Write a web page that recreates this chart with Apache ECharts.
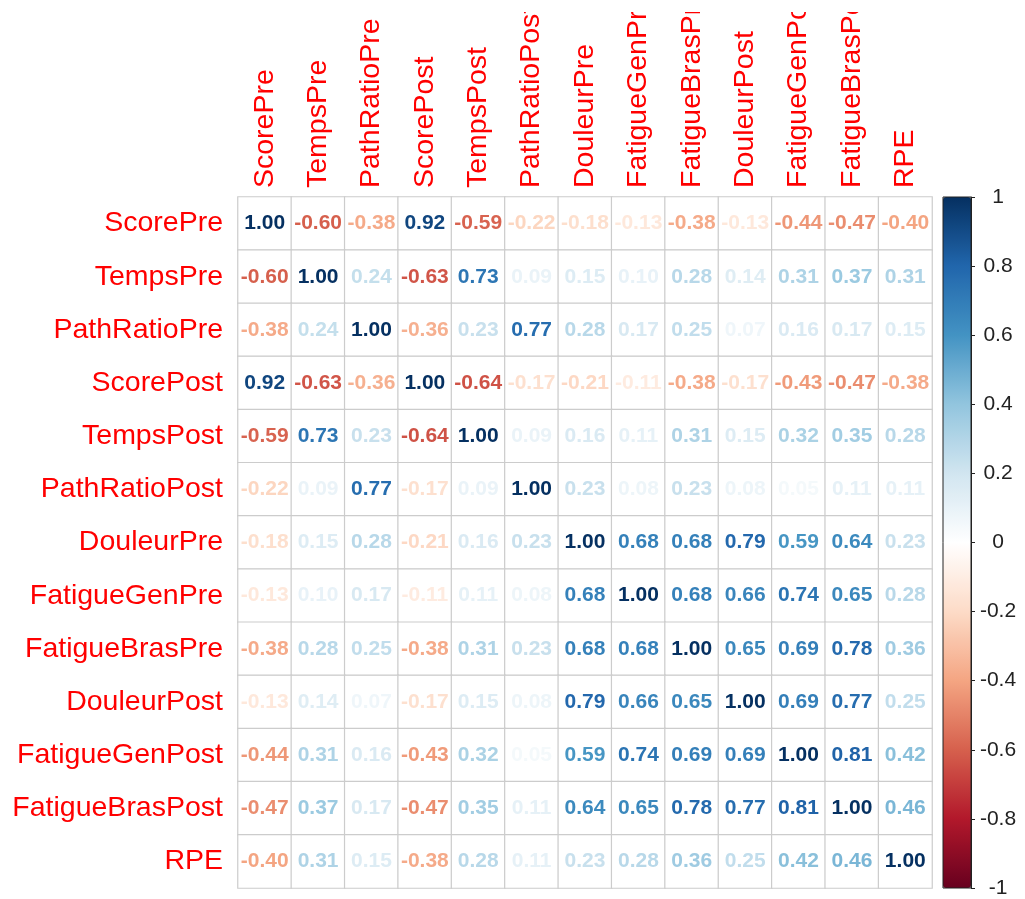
<!DOCTYPE html>
<html>
<head>
<meta charset="utf-8">
<script src="https://cdn.jsdelivr.net/npm/echarts@6/dist/echarts.min.js"></script>
<style>
html,body{margin:0;padding:0;background:#fff;}
#clip{position:absolute;left:0;top:12px;width:1025px;height:887px;overflow:hidden;}
#chart{position:absolute;left:0;top:-12px;width:1025px;height:899px;}
</style>
</head>
<body>
<div id="clip"><div id="chart"></div></div>
<script>
// Variables (rows and columns)
const variables = ['ScorePre','TempsPre','PathRatioPre','ScorePost','TempsPost','PathRatioPost','DouleurPre','FatigueGenPre','FatigueBrasPre','DouleurPost','FatigueGenPost','FatigueBrasPost','RPE'];

// Correlation rows
const rScorePre        = [ 1.00,-0.60,-0.38, 0.92,-0.59,-0.22,-0.18,-0.13,-0.38,-0.13,-0.44,-0.47,-0.40];
const rTempsPre        = [-0.60, 1.00, 0.24,-0.63, 0.73, 0.09, 0.15, 0.10, 0.28, 0.14, 0.31, 0.37, 0.31];
const rPathRatioPre    = [-0.38, 0.24, 1.00,-0.36, 0.23, 0.77, 0.28, 0.17, 0.25, 0.07, 0.16, 0.17, 0.15];
const rScorePost       = [ 0.92,-0.63,-0.36, 1.00,-0.64,-0.17,-0.21,-0.11,-0.38,-0.17,-0.43,-0.47,-0.38];
const rTempsPost       = [-0.59, 0.73, 0.23,-0.64, 1.00, 0.09, 0.16, 0.11, 0.31, 0.15, 0.32, 0.35, 0.28];
const rPathRatioPost   = [-0.22, 0.09, 0.77,-0.17, 0.09, 1.00, 0.23, 0.08, 0.23, 0.08, 0.05, 0.11, 0.11];
const rDouleurPre      = [-0.18, 0.15, 0.28,-0.21, 0.16, 0.23, 1.00, 0.68, 0.68, 0.79, 0.59, 0.64, 0.23];
const rFatigueGenPre   = [-0.13, 0.10, 0.17,-0.11, 0.11, 0.08, 0.68, 1.00, 0.68, 0.66, 0.74, 0.65, 0.28];
const rFatigueBrasPre  = [-0.38, 0.28, 0.25,-0.38, 0.31, 0.23, 0.68, 0.68, 1.00, 0.65, 0.69, 0.78, 0.36];
const rDouleurPost     = [-0.13, 0.14, 0.07,-0.17, 0.15, 0.08, 0.79, 0.66, 0.65, 1.00, 0.69, 0.77, 0.25];
const rFatigueGenPost  = [-0.44, 0.31, 0.16,-0.43, 0.32, 0.05, 0.59, 0.74, 0.69, 0.69, 1.00, 0.81, 0.42];
const rFatigueBrasPost = [-0.47, 0.37, 0.17,-0.47, 0.35, 0.11, 0.64, 0.65, 0.78, 0.77, 0.81, 1.00, 0.46];
const rRPE             = [-0.40, 0.31, 0.15,-0.38, 0.28, 0.11, 0.23, 0.28, 0.36, 0.25, 0.42, 0.46, 1.00];

const matrix = [rScorePre, rTempsPre, rPathRatioPre, rScorePost, rTempsPost, rPathRatioPost,
  rDouleurPre, rFatigueGenPre, rFatigueBrasPre, rDouleurPost, rFatigueGenPost, rFatigueBrasPost, rRPE];

// Colour bar tick range
const barMin = -1, barMax = 1, barStep = 0.2;

// RdBu palette from -1 to 1
const palette = ['#67001F','#B2182B','#D6604D','#F4A582','#FDDBC7','#FFFFFF','#D1E5F0','#92C5DE','#4393C3','#2166AC','#053061'];

function hex2rgb(h){return [parseInt(h.slice(1,3),16),parseInt(h.slice(3,5),16),parseInt(h.slice(5,7),16)];}
function colorFor(v){
  const t = (v - barMin) / (barMax - barMin) * (palette.length - 1);
  const i = Math.max(0, Math.min(palette.length - 2, Math.floor(t)));
  const f = t - i;
  const a = hex2rgb(palette[i]), b = hex2rgb(palette[i+1]);
  const c = a.map((x,k)=>Math.round(x + (b[k]-x)*f));
  return 'rgb(' + c.join(',') + ')';
}

const font = "'Liberation Sans', Arial, sans-serif";

const cells = [];
matrix.forEach((row, r) => {
  row.forEach((v, c) => {
    cells.push({ value: [c, r, v], label: { color: colorFor(v) } });
  });
});

const chart = echarts.init(document.getElementById('chart'), null, {renderer:'canvas'});
chart.setOption({
  backgroundColor: '#ffffff',
  animation: false,
  textStyle: { fontFamily: font },
  grid: [
    { left: 238, top: 197, width: 694, height: 691, containLabel: false, outerBoundsMode: 'none' },
    { left: 943, top: 197, width: 28, height: 691, show: true, borderColor: '#222222', borderWidth: 1,
      backgroundColor: 'transparent', z: 10, containLabel: false, outerBoundsMode: 'none' }
  ],
  xAxis: [
    { type: 'category', gridIndex: 0, data: variables, position: 'top',
      axisLine: { show: false }, axisTick: { show: false }, splitLine: { show: false },
      axisLabel: { rotate: -90, color: '#FF0000', fontSize: 28.5, fontFamily: font, margin: 9, interval: 0 } },
    { type: 'category', gridIndex: 1, data: [''], show: false }
  ],
  yAxis: [
    { type: 'category', gridIndex: 0, data: variables, inverse: true,
      axisLine: { show: false }, axisTick: { show: false }, splitLine: { show: false },
      axisLabel: { color: '#FF0000', fontSize: 28.5, fontFamily: font, margin: 15, interval: 0 } },
    { type: 'value', gridIndex: 1, min: barMin, max: barMax, interval: barStep, position: 'right',
      axisLine: { show: true, lineStyle: { color: '#222222', width: 1 } },
      axisTick: { show: true, length: 4, lineStyle: { color: '#222222' } },
      splitLine: { show: false },
      axisLabel: { color: '#222222', fontSize: 21, fontFamily: font, margin: 27, align: 'center',
        padding: [6, 0, 0, 0],
        formatter: v => String(parseFloat(Number(v).toFixed(1))) } }
  ],
  visualMap: {
    type: 'continuous', min: barMin, max: barMax, seriesIndex: 1,
    left: 943, top: 197, itemWidth: 28, itemHeight: 691, padding: 0,
    calculable: false, hoverLink: false, showLabel: false, text: null,
    inRange: { color: palette }, z: 4
  },
  series: [
    { type: 'heatmap', xAxisIndex: 0, yAxisIndex: 0, data: cells,
      itemStyle: { color: '#ffffff', borderColor: '#cccccc', borderWidth: 1.2 },
      label: { show: true, fontSize: 21, fontWeight: 'bold', fontFamily: font,
        formatter: p => p.value[2].toFixed(2) },
      emphasis: { disabled: true } },
    { type: 'scatter', xAxisIndex: 1, yAxisIndex: 1, data: [], silent: true }
  ]
});
</script>
</body>
</html>
